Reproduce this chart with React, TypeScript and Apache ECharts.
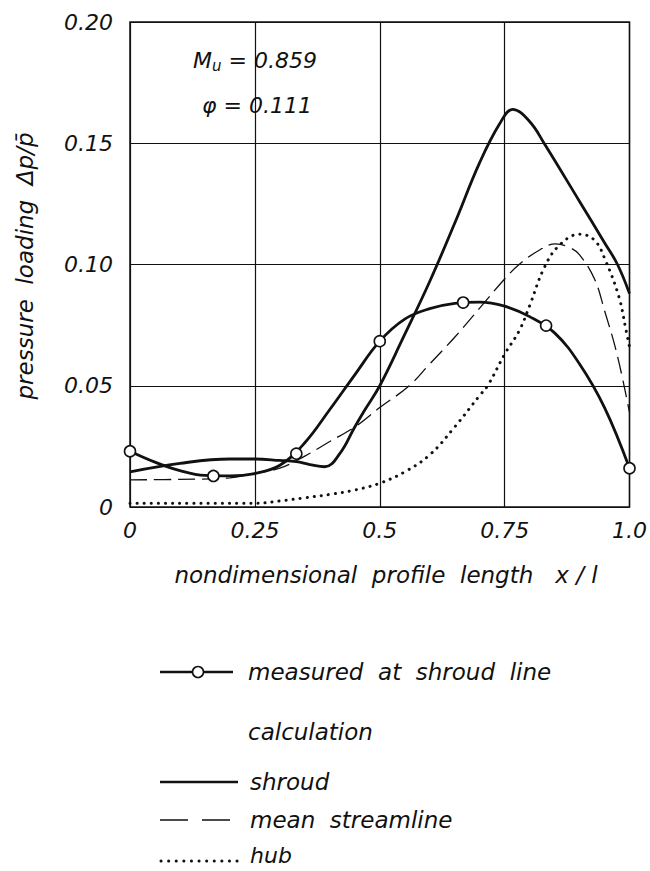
import React, { useEffect, useRef } from "react";
import * as echarts from "echarts";

// x-positions and values
const xTicks = [0, 0.25, 0.5, 0.75, 1.0];
const yTicks = [0, 0.05, 0.1, 0.15, 0.2];

// measured at shroud line (points)
const measPtsX = [0, 0.167, 0.333, 0.5, 0.667, 0.833, 1.0];
const measPtsY = [0.023, 0.0128, 0.022, 0.0684, 0.0843, 0.0748, 0.016];

// measured at shroud line (faired curve through points)
const measCurveX = [0, 0.05, 0.1, 0.15, 0.2, 0.25, 0.3, 0.35, 0.4, 0.45, 0.5, 0.55, 0.6, 0.65, 0.7, 0.75, 0.8, 0.85, 0.9, 0.95, 1.0];
const measCurveY = [0.023, 0.0185, 0.015, 0.013, 0.0128, 0.0138, 0.0172, 0.0265, 0.0402, 0.0545, 0.0684, 0.0775, 0.0818, 0.084, 0.0845, 0.0828, 0.0785, 0.0718, 0.059, 0.041, 0.016];

// calculation: shroud
const shroudX = [0, 0.1, 0.2, 0.25, 0.3, 0.333, 0.36, 0.39, 0.42, 0.45, 0.47, 0.5, 0.545, 0.6, 0.65, 0.7, 0.74, 0.766, 0.8, 0.829, 0.9, 0.95, 0.976, 1.0];
const shroudY = [0.0145, 0.018, 0.0198, 0.0198, 0.0192, 0.0187, 0.0175, 0.0166, 0.022, 0.033, 0.04, 0.05, 0.069, 0.093, 0.117, 0.142, 0.158, 0.164, 0.159, 0.15, 0.126, 0.109, 0.1, 0.088];

// calculation: mean streamline
const meanX = [0, 0.1, 0.2, 0.25, 0.3, 0.35, 0.4, 0.45, 0.5, 0.559, 0.6, 0.65, 0.7, 0.75, 0.779, 0.82, 0.852, 0.88, 0.9, 0.93, 0.95, 0.975, 1.0];
const meanY = [0.0112, 0.0114, 0.012, 0.014, 0.016, 0.021, 0.027, 0.033, 0.041, 0.05, 0.059, 0.07, 0.082, 0.094, 0.1, 0.106, 0.1085, 0.107, 0.104, 0.094, 0.081, 0.063, 0.039];

// calculation: hub
const hubX = [0, 0.25, 0.3, 0.35, 0.4, 0.45, 0.5, 0.55, 0.6, 0.65, 0.7, 0.716, 0.75, 0.78, 0.8, 0.83, 0.86, 0.9, 0.93, 0.952, 0.979, 0.992, 1.0];
const hubY = [0.0015, 0.0015, 0.0025, 0.0038, 0.0052, 0.007, 0.0098, 0.0145, 0.0215, 0.033, 0.046, 0.05, 0.063, 0.073, 0.083, 0.099, 0.108, 0.1125, 0.11, 0.1016, 0.0865, 0.074, 0.066];

const FONT = "DejaVu Sans";
const INK = "#111";

const zip = (xs: number[], ys: number[]) => xs.map((x, i) => [x, ys[i]]);

export default function App() {
  const ref = useRef<HTMLDivElement>(null);
  useEffect(() => {
    if (!ref.current) return;
    const chart = echarts.init(ref.current, undefined, { renderer: "svg" });
    const txt = { fontFamily: FONT, fontStyle: "italic", fill: INK };
    chart.setOption({
      animation: false,
      backgroundColor: "#fff",
      grid: { left: 130, right: 19, top: 22, bottom: 364, show: true, borderColor: INK, borderWidth: 1.5 },
      xAxis: {
        type: "value",
        min: 0,
        max: 1,
        interval: 0.25,
        axisLine: { show: false },
        axisTick: { show: false },
        splitLine: { show: true, lineStyle: { color: INK, width: 1.2 } },
        axisLabel: {
          margin: 12,
          fontFamily: FONT,
          fontStyle: "italic",
          fontSize: 22,
          color: INK,
          formatter: (v: number) => {
            const i = xTicks.indexOf(v);
            if (v === 0) return "0";
            if (v === 1) return "1.0";
            return i >= 0 ? String(xTicks[i]) : "";
          },
        },
      },
      yAxis: {
        type: "value",
        min: 0,
        max: 0.2,
        interval: 0.05,
        axisLine: { show: false },
        axisTick: { show: false },
        splitLine: { show: true, lineStyle: { color: INK, width: 1.2 } },
        axisLabel: {
          margin: 17,
          fontFamily: FONT,
          fontStyle: "italic",
          fontSize: 22,
          color: INK,
          formatter: (v: number) => (v === 0 ? "0" : v.toFixed(2)),
        },
      },
      series: [
        {
          name: "shroud",
          type: "line",
          data: zip(shroudX, shroudY),
          smooth: 0.4,
          showSymbol: false,
          lineStyle: { color: INK, width: 2.8 },
        },
        {
          name: "mean streamline",
          type: "line",
          data: zip(meanX, meanY),
          smooth: 0.4,
          showSymbol: false,
          lineStyle: { color: INK, width: 1.3, type: [17, 7] },
        },
        {
          name: "hub",
          type: "line",
          data: zip(hubX, hubY),
          smooth: 0.4,
          showSymbol: false,
          lineStyle: { color: INK, width: 3, type: [0.1, 7], cap: "round" },
        },
        {
          name: "measured curve",
          type: "line",
          data: zip(measCurveX, measCurveY),
          smooth: 0.4,
          showSymbol: false,
          lineStyle: { color: INK, width: 2.8 },
        },
        {
          name: "measured at shroud line",
          type: "scatter",
          data: zip(measPtsX, measPtsY),
          symbol: "circle",
          symbolSize: 11,
          itemStyle: { color: "#fff", borderColor: INK, borderWidth: 1.6, opacity: 1 },
          z: 5,
        },
      ],
      graphic: [
        {
          type: "text",
          left: 193,
          top: 48,
          style: {
            text: "{a|M}{s|u}{a| = 0.859}",
            rich: {
              a: { fontFamily: FONT, fontStyle: "italic", fontSize: 22, fill: INK, lineHeight: 26 },
              s: { fontFamily: FONT, fontStyle: "italic", fontSize: 15, fill: INK, lineHeight: 26, padding: [10, 0, 0, 0] },
            },
          },
        },
        {
          type: "text",
          x: 202,
          y: 105,
          style: { ...txt, text: "φ = 0.111", fontSize: 22, textVerticalAlign: "middle" },
        },
        {
          type: "text",
          x: 25,
          y: 266,
          rotation: Math.PI / 2,
          style: { ...txt, text: "pressure  loading  Δp/p̄", fontSize: 23, textAlign: "center", textVerticalAlign: "middle" },
        },
        {
          type: "text",
          x: 386,
          y: 575,
          style: { ...txt, text: "nondimensional  profile  length   x / l", fontSize: 23, textAlign: "center", textVerticalAlign: "middle" },
        },
        // legend
        { type: "line", shape: { x1: 160, y1: 672, x2: 233, y2: 672 }, style: { stroke: INK, lineWidth: 2.6 } },
        { type: "circle", shape: { cx: 198, cy: 672, r: 5.5 }, style: { fill: "#fff", stroke: INK, lineWidth: 1.6 }, z: 10 },
        { type: "text", x: 248, y: 672, style: { ...txt, text: "measured  at  shroud  line", fontSize: 23, textVerticalAlign: "middle" } },
        { type: "text", x: 248, y: 732, style: { ...txt, text: "calculation", fontSize: 23, textVerticalAlign: "middle" } },
        { type: "line", shape: { x1: 160, y1: 782, x2: 238, y2: 782 }, style: { stroke: INK, lineWidth: 2.6 } },
        { type: "text", x: 250, y: 782, style: { ...txt, text: "shroud", fontSize: 23, textVerticalAlign: "middle" } },
        { type: "line", shape: { x1: 160, y1: 820, x2: 241, y2: 820 }, style: { stroke: INK, lineWidth: 1.3, lineDash: [28, 14] } },
        { type: "text", x: 250, y: 820, style: { ...txt, text: "mean  streamline", fontSize: 23, textVerticalAlign: "middle" } },
        { type: "line", shape: { x1: 161, y1: 861, x2: 240, y2: 861 }, style: { stroke: INK, lineWidth: 3, lineDash: [0.1, 7.5], lineCap: "round" } },
        { type: "text", x: 250, y: 855, style: { ...txt, text: "hub", fontSize: 22, textVerticalAlign: "middle" } },
      ],
    });
    return () => chart.dispose();
  }, []);
  return <div ref={ref} style={{ position: "fixed", left: 0, top: 0, width: 650, height: 871, background: "#fff" }} />;
}
